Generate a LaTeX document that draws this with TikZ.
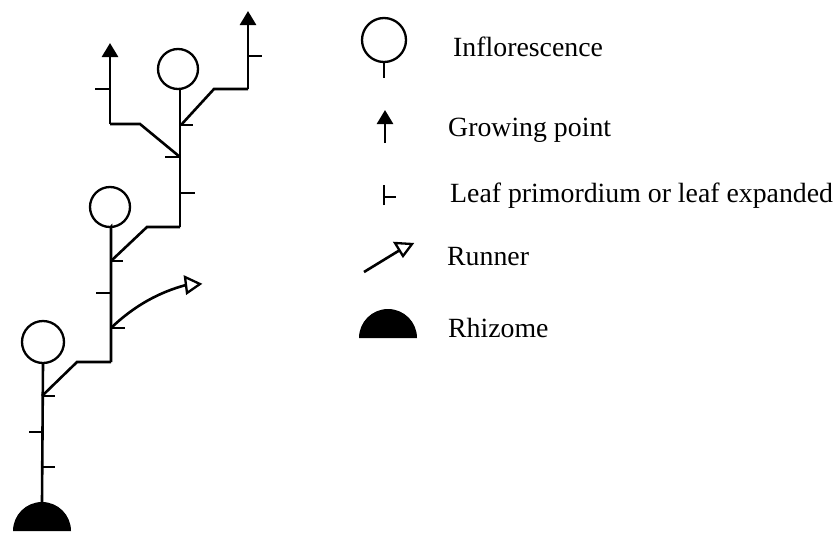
\documentclass[tikz,border=0pt]{standalone}
\usepackage{fontspec}
\setmainfont{Liberation Serif}
\usetikzlibrary{arrows.meta}
\begin{document}
\begin{tikzpicture}[x=1pt,y=-1pt,
  stemline/.style={line width=2.6pt,line cap=butt,line join=miter},
  leafmark/.style={line width=2.6pt},
  infl/.style={circle,draw,line width=2.3pt,minimum size=#1,inner sep=0pt},
  growtip/.style={-{Triangle[width=16pt,length=14pt]}},
  runtip/.style={draw,line width=2.3pt,fill=white,line join=miter},
  lbl/.style={anchor=base west,inner sep=0pt,font=\fontsize{27.8}{33}\selectfont}]
\useasboundingbox (0,0) rectangle (837,533);

% ---------- rhizome at base ----------
\coordinate (rz) at (42,531);
\fill (rz) ++(-29,0) arc[start angle=180,end angle=360,radius=29] -- cycle;

% ---------- shoot 1 ----------
\node[infl=42pt] (c3) at (43,342) {};
\coordinate (s1top) at (42,502);
\coordinate (j1) at (42,396);
\draw[stemline] (s1top) -- (c3.south);
\draw[leafmark] (42,432) -- (29,432);
\draw[leafmark] (42,467) -- (55,467);
\draw[leafmark] (j1) -- (55,396);

% connector to shoot 2
\coordinate (k1) at (77,362);
\coordinate (b2) at (111,362);
\draw[stemline] (j1) -- (k1) -- (b2);

% ---------- shoot 2 ----------
\node[infl=40pt] (c2) at (110,207) {};
\draw[stemline] (b2) -- (111,227) -- (c2.south);
\coordinate (j2) at (111,261);
\coordinate (jr) at (111,328);
\draw[leafmark] (j2) -- (123,261);
\draw[leafmark] (111,293) -- (96,293);
\draw[leafmark] (jr) -- (125,328);

% runner
\coordinate (rt) at (186,285);
\draw[stemline] (jr) .. controls (135,305) and (160,292) .. (rt);
\draw[runtip] (185,277) -- (200,284) -- (187,293) -- cycle;

% connector to shoot 3
\coordinate (k2) at (147,227);
\coordinate (b3) at (180,227);
\draw[stemline] (j2) -- (k2) -- (b3);

% ---------- shoot 3 ----------
\node[infl=40pt] (c1) at (178,69) {};
\draw[stemline] (b3) -- (180,89);
\draw[leafmark] (180,193) -- (195,193);
\coordinate (j3) at (180,157);
\coordinate (j4) at (181,125);
\draw[leafmark] (j3) -- (165,157);
\draw[leafmark] (j4) -- (193,125);

% left branch
\coordinate (k3) at (140,124);
\coordinate (b4) at (110,124);
\coordinate (g1) at (110,43);
\draw[stemline] (j3) -- (k3) -- (b4);
\draw[stemline,growtip] (b4) -- (g1);
\draw[leafmark] (110,89) -- (95,89);

% right branch
\coordinate (k4) at (214,89);
\coordinate (b5) at (248,89);
\coordinate (g2) at (248,11);
\draw[stemline] (j4) -- (k4) -- (b5);
\draw[stemline,growtip] (b5) -- (g2);
\draw[leafmark] (248,56) -- (262,56);

% ---------- legend ----------
\node[infl=44pt] (lc) at (384,40) {};
\draw[stemline] (lc.south) -- (384,78);
\node[lbl] (t1) at (453,56) {Inflorescence};

\coordinate (lg0) at (385,143);
\coordinate (lg1) at (385,110);
\draw[stemline,growtip] (lg0) -- (lg1);
\node[lbl] (t2) at (448,136) {Growing point};

\coordinate (ll0) at (384,205);
\coordinate (ll1) at (384,185);
\draw[stemline] (ll0) -- (ll1);
\draw[leafmark] (384,197) -- (396,197);
\node[lbl] (t3) at (450,202) {Leaf primordium or leaf expanded};

\coordinate (lr0) at (364,272);
\coordinate (lr1) at (400,250);
\draw[stemline] (lr0) -- (lr1);
\draw[runtip] (395,243) -- (412,244) -- (403,256) -- cycle;
\node[lbl] (t4) at (447,265) {Runner};

\coordinate (lz) at (388,338);
\fill (lz) ++(-29,0) arc[start angle=180,end angle=360,radius=29] -- cycle;
\node[lbl] (t5) at (448,337) {Rhizome};
\end{tikzpicture}
\end{document}
